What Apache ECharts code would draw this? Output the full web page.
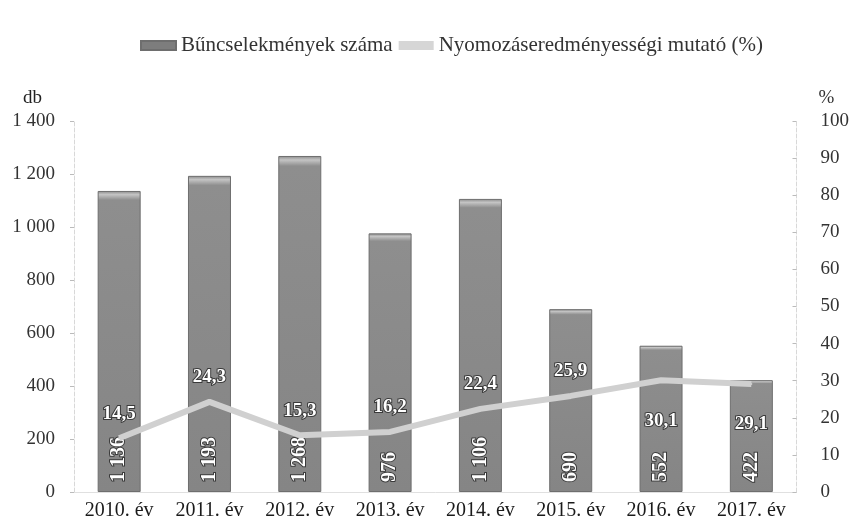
<!DOCTYPE html>
<html>
<head>
<meta charset="utf-8">
<script src="https://cdn.jsdelivr.net/npm/echarts@6/dist/echarts.min.js"></script>
<style>
  html, body { margin: 0; padding: 0; background: #fff; }
  #chart { width: 852px; height: 529px; }
</style>
</head>
<body>
<div id="chart"></div>
<script>
// évek
var years = ['2010. év', '2011. év', '2012. év', '2013. év', '2014. év', '2015. év', '2016. év', '2017. év']
// bűncselekmények száma (db)
var crimeCount = [1136, 1193, 1268, 976, 1106, 690, 552, 422]
// nyomozáseredményességi mutató (%)
var clearRate = [14.5, 24.3, 15.3, 16.2, 22.4, 25.9, 30.1, 29.1]
// az utolsó két címke a vonal alatt van
var rateLabelBelow = [false, false, false, false, false, false, true, true]

var serif = 'Liberation Serif'

function spaced(v) {
  return String(v).replace(/\B(?=(\d{3})+(?!\d))/g, ' ')
}

var chart = echarts.init(document.getElementById('chart'))

var rateData = clearRate.map(function (v, i) {
  var below = rateLabelBelow[i]
  return {
    value: v,
    label: {
      position: below ? 'bottom' : 'top',
      distance: below ? 30 : 14
    }
  }
})

chart.setOption({
  backgroundColor: '#fff',
  animation: false,
  textStyle: { fontFamily: serif },
  legend: {
    top: 30,
    left: 135,
    itemGap: 6,
    itemWidth: 35,
    itemHeight: 9,
    textStyle: { fontFamily: serif, fontSize: 21, color: '#333' },
    data: [
      { name: 'Bűncselekmények száma', icon: 'rect', itemStyle: { color: '#7d7d7d' } },
      { name: 'Nyomozáseredményességi mutató (%)', icon: 'rect', itemStyle: { color: '#d6d6d6' } }
    ]
  },
  grid: {
    left: 74,
    right: 54,
    top: 121,
    bottom: 37
  },
  xAxis: {
    type: 'category',
    data: years,
    axisLine: { show: true, lineStyle: { color: '#e0e0e0', width: 1 } },
    axisTick: { show: false },
    axisLabel: {
      fontFamily: serif,
      fontSize: 20,
      color: '#1a1a1a',
      margin: 9
    }
  },
  yAxis: [
    {
      type: 'value',
      min: 0,
      max: 1400,
      interval: 200,
      name: 'db',
      nameLocation: 'end',
      nameGap: 13,
      nameTextStyle: { fontFamily: serif, fontSize: 19, color: '#222', align: 'right', padding: [0, 32, 0, 0] },
      axisLine: { show: true, lineStyle: { color: '#d8d8d8', type: 'dashed' } },
      axisTick: { show: true, length: 4, lineStyle: { color: '#bbb' } },
      splitLine: { show: false },
      axisLabel: {
        fontFamily: serif,
        fontSize: 19,
        color: '#333',
        margin: 19,
        formatter: function (v) { return spaced(v) }
      }
    },
    {
      type: 'value',
      min: 0,
      max: 100,
      interval: 10,
      name: '%',
      nameLocation: 'end',
      nameGap: 13,
      nameTextStyle: { fontFamily: serif, fontSize: 19, color: '#333', align: 'left', padding: [0, 0, 0, 22] },
      axisLine: { show: true, lineStyle: { color: '#d8d8d8', type: 'dashed' } },
      axisTick: { show: true, length: 4, inside: true, lineStyle: { color: '#bbb' } },
      splitLine: { show: false },
      axisLabel: {
        fontFamily: serif,
        fontSize: 19,
        color: '#333',
        margin: 24
      }
    }
  ],
  series: [
    {
      name: 'Bűncselekmények száma',
      type: 'bar',
      barWidth: 43,
      data: crimeCount,
      itemStyle: {
        color: new echarts.graphic.LinearGradient(0, 0, 0, 1, [
          { offset: 0, color: '#8a8a8a' },
          { offset: 0.012, color: '#c4c4c4' },
          { offset: 0.03, color: '#8e8e8e' },
          { offset: 1, color: '#858585' }
        ]),
        borderColor: '#6e6e6e',
        borderWidth: 1
      },
      label: {
        show: true,
        position: 'insideBottom',
        rotate: 90,
        align: 'left',
        verticalAlign: 'middle',
        distance: 10,
        fontFamily: serif,
        fontSize: 20,
        fontWeight: 'bold',
        color: '#fff',
        textBorderColor: '#3a3a3a',
        textBorderWidth: 2,
        formatter: function (p) { return spaced(p.value) }
      },
      z: 2
    },
    {
      name: 'Nyomozáseredményességi mutató (%)',
      type: 'line',
      yAxisIndex: 1,
      data: rateData,
      symbol: 'circle',
      symbolSize: 2,
      showSymbol: true,
      lineStyle: { color: '#d0d0d0', width: 6 },
      itemStyle: { color: '#d0d0d0' },
      label: {
        show: true,
        fontFamily: serif,
        fontSize: 19,
        fontWeight: 'bold',
        color: '#fff',
        textBorderColor: '#3a3a3a',
        textBorderWidth: 2,
        formatter: function (p) { return p.value.toFixed(1).replace('.', ',') }
      },
      z: 3
    }
  ]
})
</script>
</body>
</html>
